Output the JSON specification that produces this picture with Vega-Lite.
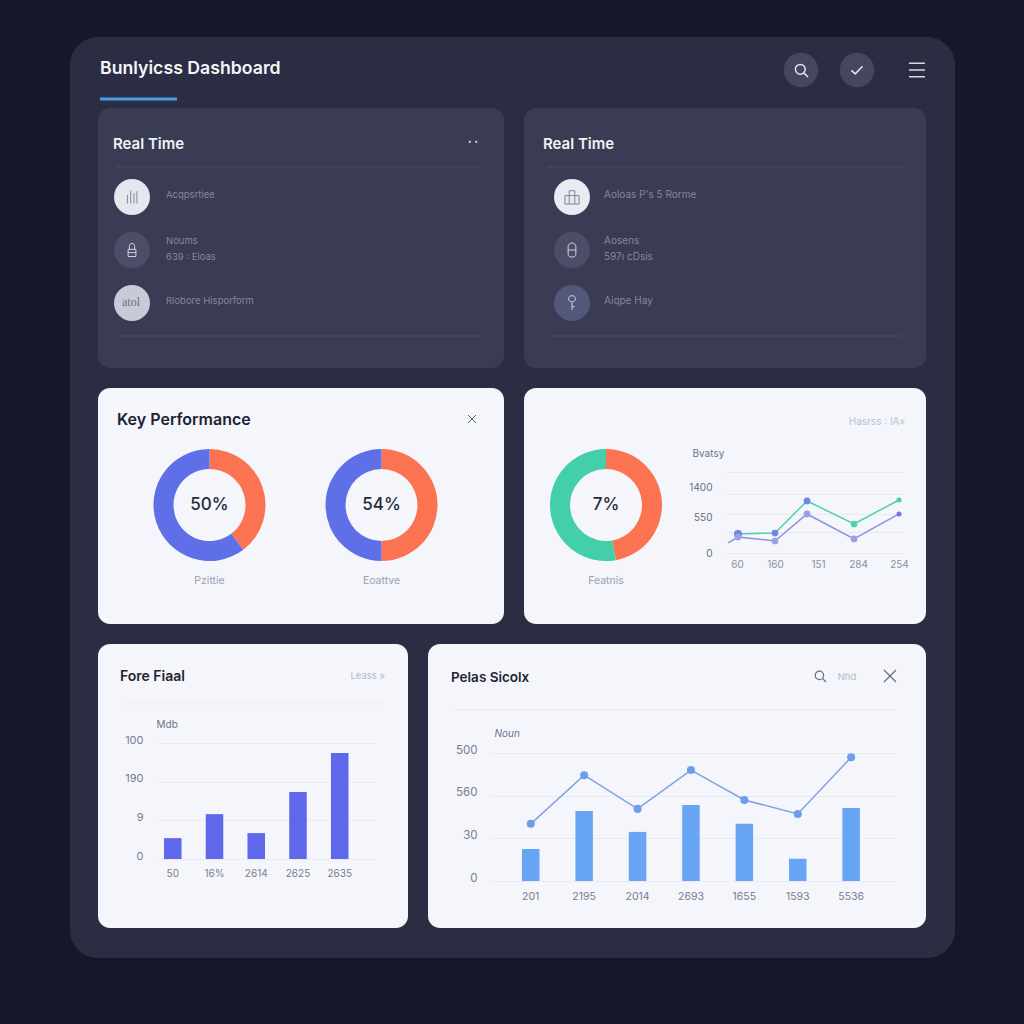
{
"$schema":"https://vega.github.io/schema/vega-lite/v6.json",
"background":"#151829",
"padding":{"left":70,"top":37,"right":69,"bottom":66},
"config":{"view":{"stroke":null},"font":"Inter","axis":{"domain":false,"ticks":false,"tickSize":0,"labelPadding":0,"labelFont":"Inter","labelFontSize":10.5,"labelColor":"#777c90","gridColor":"#e8ebf3","gridWidth":1,"titleFont":"Inter","titleFontSize":10,"titleFontWeight":400,"titleColor":"#6e7386"},"title":{"font":"Inter","anchor":"start","frame":"group","baseline":"middle","fontWeight":600,"offset":0}},
"spacing":0,
"bounds":"flush",
"hconcat":[
{"width":28,"height":921,"view":{"stroke":null},
 "resolve":{"scale":{"x":"independent","y":"independent"}},
 "layer":[
 {"data":{"values":[{"part":"panel"}]},"mark":{"type":"rect","color":"#2b2e43","cornerRadius":28},
  "encoding":{"x":{"datum":"left","type":"nominal","scale":{"type":"point","padding":0,"domain":["left","right"],"range":[0,885]},"axis":null},"x2":{"datum":"right"},"y":{"datum":"top","type":"nominal","scale":{"type":"point","padding":0,"domain":["top","bottom"],"range":[0,921]},"axis":null},"y2":{"datum":"bottom"}}},
 {"data":{"values":[{"part":"accent"}]},"mark":{"type":"rule","color":"#4a9be8","strokeWidth":3},
  "encoding":{"x":{"datum":"start","type":"nominal","scale":{"type":"point","padding":0,"domain":["start","end"],"range":[30,107]},"axis":null},"x2":{"datum":"end"},"y":{"datum":"accent","type":"nominal","scale":{"type":"point","padding":0,"domain":["accent"],"range":[62,62]},"axis":null}}}
 ]},
{"spacing":20,"vconcat":[
 {"width":828,"height":51,"view":{"stroke":null},
  "title":{"text":"Bunlyicss Dashboard","fontSize":17.7,"color":"#f4f5f9","dx":2,"dy":45},
  "resolve":{"scale":{"x":"independent","y":"independent","shape":"independent"}},
  "layer":[
  {"data":{"values":[{"action":"search"},{"action":"check"}]},"mark":{"type":"point","filled":true,"size":1190,"color":"#45475f","opacity":1},
   "encoding":{"x":{"field":"action","type":"nominal","scale":{"type":"point","padding":0,"domain":["search","check"],"range":[703,759]},"axis":null},"y":{"datum":"icons","type":"nominal","scale":{"type":"point","padding":0,"domain":["icons"],"range":[33,33]},"axis":null}}},
  {"data":{"values":[{"action":"search"},{"action":"check"}]},"mark":{"type":"point","filled":false,"size":196,"color":"#e4e6ee","strokeWidth":1.5,"opacity":1},
   "encoding":{"x":{"field":"action","type":"nominal","scale":{"type":"point","padding":0,"domain":["search","check"],"range":[703,759]},"axis":null},"y":{"datum":"icons","type":"nominal","scale":{"type":"point","padding":0,"domain":["icons"],"range":[33,33]},"axis":null},
   "shape":{"field":"action","type":"nominal","legend":null,"scale":{"domain":["search","check"],"range":["M0.45,0.45L1,1M0.6,-0.1A0.7,0.7 0 1 1 -0.8,-0.1A0.7,0.7 0 1 1 0.6,-0.1Z","M-0.8,0.05L-0.25,0.55L0.8,-0.55"]}}}},
  {"data":{"values":[{"action":"menu"}]},"mark":{"type":"point","filled":false,"size":256,"color":"#d7d9e2","strokeWidth":1.6,"opacity":1,"shape":"M-1,-0.85H1M-1,0H1M-1,0.85H1"},
   "encoding":{"x":{"field":"action","type":"nominal","scale":{"type":"point","padding":0,"domain":["menu"],"range":[819,819]},"axis":null},"y":{"datum":"icons","type":"nominal","scale":{"type":"point","padding":0,"domain":["icons"],"range":[33,33]},"axis":null}}}
  ]},
 {"spacing":20,"hconcat":[
  {"width":406,"height":260,"view":{"fill":"#393c52","cornerRadius":12,"stroke":null},
   "title":{"text":"Real Time","fontSize":15,"color":"#f1f2f6","dx":15,"dy":48},
   "resolve":{"scale":{"x":"independent","y":"independent","color":"independent","shape":"independent"}},
   "layer":[
   {"data":{"values":[{"edge":"top"},{"edge":"bottom"}]},"mark":{"type":"rule","color":"#4b4e65","strokeWidth":1},
    "encoding":{"x":{"datum":"left","type":"nominal","scale":{"type":"point","padding":0,"domain":["left","right"],"range":[18,384]},"axis":null},"x2":{"datum":"right"},"y":{"field":"edge","type":"nominal","scale":{"type":"point","padding":0,"domain":["top","bottom"],"range":[59,228]},"axis":null}}},
   {"data":{"values":[{"part":"caret"}]},"mark":{"type":"point","filled":false,"size":64,"color":"#e8e9ef","strokeWidth":1.5,"opacity":1,"shape":"M-1,0.4L-0.6,0M0.6,0L1,0.4"},
    "encoding":{"x":{"field":"part","type":"nominal","scale":{"type":"point","padding":0,"domain":["caret"],"range":[375,375]},"axis":null},"y":{"field":"part","type":"nominal","scale":{"type":"point","padding":0,"domain":["caret"],"range":[33,33]},"axis":null}}},
   {"data":{"values":[{"row":"r1"},{"row":"r2"},{"row":"r3"}]},"mark":{"type":"point","filled":true,"size":1296,"opacity":1},
    "encoding":{"x":{"datum":"icon","type":"nominal","scale":{"type":"point","padding":0,"domain":["icon"],"range":[34,34]},"axis":null},"y":{"field":"row","type":"nominal","scale":{"type":"point","padding":0,"domain":["r1","r2","r3"],"range":[89,195]},"axis":null},"color":{"field":"row","type":"nominal","legend":null,"scale":{"domain":["r1","r2","r3"],"range":["#e6e7ee","#4c4e69","#c9cad8"]}}}},
   {"data":{"values":[{"row":"r1","icon":"bars"},{"row":"r2","icon":"lock"}]},"mark":{"type":"point","filled":false,"size":169,"strokeWidth":1,"opacity":1},
    "encoding":{"x":{"datum":"icon","type":"nominal","scale":{"type":"point","padding":0,"domain":["icon"],"range":[34,34]},"axis":null},"y":{"field":"row","type":"nominal","scale":{"type":"point","padding":0,"domain":["r1","r2"],"range":[89,142]},"axis":null},"color":{"field":"row","type":"nominal","legend":null,"scale":{"domain":["r1","r2"],"range":["#85889c","#d0d2dd"]}},"shape":{"field":"icon","type":"nominal","legend":null,"scale":{"domain":["bars","lock"],"range":["M-0.7,1V-0.3M-0.2,1V-1M0.3,1V-0.6M0.75,1V-0.9","M-0.6,-0.1H0.6V1H-0.6ZM-0.4,-0.1V-0.6A0.4,0.4 0 0 1 0.4,-0.6V-0.1M-0.6,0.4H0.6"]}}}},
   {"data":{"values":[{"row":"r3","label":"atol"}]},"mark":{"type":"text","fontSize":12,"color":"#6a6d82","font":"Liberation Serif"},
    "encoding":{"x":{"datum":"icon","type":"nominal","scale":{"type":"point","padding":0,"domain":["icon"],"range":[33,33]},"axis":null},"y":{"field":"row","type":"nominal","scale":{"type":"point","padding":0,"domain":["r3"],"range":[194,194]},"axis":null},"text":{"field":"label"}}},
   {"data":{"values":[{"row":"r1","label":"Acqpsrtiee"},{"row":"r3","label":"Rlobore Hisporform"}]},"mark":{"type":"text","align":"left","fontSize":9.5,"color":"#85889c"},
    "encoding":{"x":{"datum":"label","type":"nominal","scale":{"type":"point","padding":0,"domain":["label"],"range":[68,68]},"axis":null},"y":{"field":"row","type":"nominal","scale":{"type":"point","padding":0,"domain":["r1","r3"],"range":[87,193]},"axis":null},"text":{"field":"label"}}},
   {"data":{"values":[{"row":"r2","label":"Noums|639 : Eioas"}]},"mark":{"type":"text","align":"left","fontSize":9.5,"color":"#85889c","lineBreak":"|","lineHeight":16},
    "encoding":{"x":{"datum":"label","type":"nominal","scale":{"type":"point","padding":0,"domain":["label"],"range":[68,68]},"axis":null},"y":{"field":"row","type":"nominal","scale":{"type":"point","padding":0,"domain":["r2"],"range":[133,133]},"axis":null},"text":{"field":"label"}}}
   ]},
  {"width":402,"height":260,"view":{"fill":"#393c52","cornerRadius":12,"stroke":null},
   "title":{"text":"Real Time","fontSize":15,"color":"#f1f2f6","dx":19,"dy":48},
   "resolve":{"scale":{"x":"independent","y":"independent","color":"independent","shape":"independent"}},
   "layer":[
   {"data":{"values":[{"edge":"top"},{"edge":"bottom"}]},"mark":{"type":"rule","color":"#4b4e65","strokeWidth":1},
    "encoding":{"x":{"datum":"left","type":"nominal","scale":{"type":"point","padding":0,"domain":["left","right"],"range":[23,378]},"axis":null},"x2":{"datum":"right"},"y":{"field":"edge","type":"nominal","scale":{"type":"point","padding":0,"domain":["top","bottom"],"range":[59,228]},"axis":null}}},
   {"data":{"values":[{"row":"r1"},{"row":"r2"},{"row":"r3"}]},"mark":{"type":"point","filled":true,"size":1296,"opacity":1},
    "encoding":{"x":{"datum":"icon","type":"nominal","scale":{"type":"point","padding":0,"domain":["icon"],"range":[48,48]},"axis":null},"y":{"field":"row","type":"nominal","scale":{"type":"point","padding":0,"domain":["r1","r2","r3"],"range":[89,195]},"axis":null},"color":{"field":"row","type":"nominal","legend":null,"scale":{"domain":["r1","r2","r3"],"range":["#e9eaf2","#4c4e69","#55577a"]}}}},
   {"data":{"values":[{"row":"r1","icon":"gift"},{"row":"r2","icon":"pill"},{"row":"r3","icon":"key"}]},"mark":{"type":"point","filled":false,"size":196,"strokeWidth":1,"opacity":1},
    "encoding":{"x":{"datum":"icon","type":"nominal","scale":{"type":"point","padding":0,"domain":["icon"],"range":[48,48]},"axis":null},"y":{"field":"row","type":"nominal","scale":{"type":"point","padding":0,"domain":["r1","r2","r3"],"range":[89,195]},"axis":null},"color":{"field":"row","type":"nominal","legend":null,"scale":{"domain":["r1","r2","r3"],"range":["#7f8297","#d0d2dd","#d0d2dd"]}},"shape":{"field":"icon","type":"nominal","legend":null,"scale":{"domain":["gift","pill","key"],"range":["M-1,-0.2H1V1H-1ZM-0.4,-0.2V1M0.4,-0.2V1M-0.4,-0.2V-0.9H0.4V-0.2","M-0.55,-0.5A0.55,0.5 0 0 1 0.55,-0.5V0.6A0.4,0.4 0 0 1 0.15,1H-0.15A0.4,0.4 0 0 1 -0.55,0.6ZM-0.55,0H0.55","M-0.5,-0.6A0.5,0.45 0 1 1 0.5,-0.6A0.5,0.45 0 1 1 -0.5,-0.6ZM0,-0.1V1M0,0.5H0.35"]}}}},
   {"data":{"values":[{"row":"r1","label":"Aoloas P's 5 Rorme"},{"row":"r3","label":"Aiqpe Hay"}]},"mark":{"type":"text","align":"left","fontSize":10,"color":"#85889c"},
    "encoding":{"x":{"datum":"label","type":"nominal","scale":{"type":"point","padding":0,"domain":["label"],"range":[80,80]},"axis":null},"y":{"field":"row","type":"nominal","scale":{"type":"point","padding":0,"domain":["r1","r3"],"range":[87,193]},"axis":null},"text":{"field":"label"}}},
   {"data":{"values":[{"row":"r2","label":"Aosens|597ı cDsis"}]},"mark":{"type":"text","align":"left","fontSize":10,"color":"#85889c","lineBreak":"|","lineHeight":16},
    "encoding":{"x":{"datum":"label","type":"nominal","scale":{"type":"point","padding":0,"domain":["label"],"range":[80,80]},"axis":null},"y":{"field":"row","type":"nominal","scale":{"type":"point","padding":0,"domain":["r2"],"range":[133,133]},"axis":null},"text":{"field":"label"}}}
   ]}
 ]},
 {"spacing":20,"hconcat":[
  {"width":406,"height":236,"view":{"fill":"#f4f6fb","cornerRadius":12,"stroke":null},
   "title":{"text":"Key Performance","fontSize":16,"color":"#1c2233","dx":19,"dy":44},
   "resolve":{"scale":{"x":"independent","y":"independent","color":"independent","theta":"independent"}},
   "layer":[
   {"data":{"values":[{"part":"close"}]},"mark":{"type":"point","filled":false,"size":64,"color":"#5d6274","strokeWidth":1,"opacity":1,"shape":"M-1,-1L1,1M1,-1L-1,1"},
    "encoding":{"x":{"field":"part","type":"nominal","scale":{"type":"point","padding":0,"domain":["close"],"range":[374,374]},"axis":null},"y":{"field":"part","type":"nominal","scale":{"type":"point","padding":0,"domain":["close"],"range":[31,31]},"axis":null}}},
   {"data":{"values":[{"donut":"a","segment":"Orange","share":39.7,"rank":1},{"donut":"a","segment":"Blue","share":60.3,"rank":2}]},"mark":{"type":"arc","radius":56,"radius2":36},
    "encoding":{"x":{"field":"donut","type":"nominal","scale":{"type":"point","padding":0,"domain":["a"],"range":[111.5,111.5]},"axis":null},"y":{"datum":"center","type":"nominal","scale":{"type":"point","padding":0,"domain":["center"],"range":[117,117]},"axis":null},"theta":{"field":"share","type":"quantitative","scale":{"domain":[0,100]}},"order":{"field":"rank"},"color":{"field":"segment","type":"nominal","legend":null,"scale":{"domain":["Orange","Blue"],"range":["#fb7350","#5f6fe8"]}}}},
   {"data":{"values":[{"donut":"b","segment":"Orange","share":50,"rank":1},{"donut":"b","segment":"Blue","share":50,"rank":2}]},"mark":{"type":"arc","radius":56,"radius2":36},
    "encoding":{"x":{"field":"donut","type":"nominal","scale":{"type":"point","padding":0,"domain":["b"],"range":[283.5,283.5]},"axis":null},"y":{"datum":"center","type":"nominal","scale":{"type":"point","padding":0,"domain":["center"],"range":[117,117]},"axis":null},"theta":{"field":"share","type":"quantitative","scale":{"domain":[0,100]}},"order":{"field":"rank"},"color":{"field":"segment","type":"nominal","legend":null,"scale":{"domain":["Orange","Blue"],"range":["#fb7350","#5f6fe8"]}}}},
   {"data":{"values":[{"donut":"a","label":"50%"},{"donut":"b","label":"54%"}]},"mark":{"type":"text","fontSize":17,"fontWeight":500,"color":"#262b3c"},
    "encoding":{"x":{"field":"donut","type":"nominal","scale":{"type":"point","padding":0,"domain":["a","b"],"range":[111.5,283.5]},"axis":null},"y":{"datum":"center","type":"nominal","scale":{"type":"point","padding":0,"domain":["center"],"range":[117,117]},"axis":null},"text":{"field":"label"}}},
   {"data":{"values":[{"donut":"a","label":"Pzittie"},{"donut":"b","label":"Eoattve"}]},"mark":{"type":"text","fontSize":10.5,"color":"#9a9fb3"},
    "encoding":{"x":{"field":"donut","type":"nominal","scale":{"type":"point","padding":0,"domain":["a","b"],"range":[111.5,283.5]},"axis":null},"y":{"datum":"caption","type":"nominal","scale":{"type":"point","padding":0,"domain":["caption"],"range":[193,193]},"axis":null},"text":{"field":"label"}}}
   ]},
  {"width":402,"height":236,"view":{"fill":"#f4f6fb","cornerRadius":12,"stroke":null},
   "resolve":{"scale":{"x":"independent","y":"independent","color":"independent","theta":"independent"}},
   "layer":[
   {"data":{"values":[{"part":"legend","label":"Hasrss : IA»"}]},"mark":{"type":"text","align":"right","fontSize":10,"color":"#b9c0d0"},
    "encoding":{"x":{"field":"part","type":"nominal","scale":{"type":"point","padding":0,"domain":["legend"],"range":[381,381]},"axis":null},"y":{"field":"part","type":"nominal","scale":{"type":"point","padding":0,"domain":["legend"],"range":[34,34]},"axis":null},"text":{"field":"label"}}},
   {"data":{"values":[{"donut":"c","segment":"Orange","share":47.2,"rank":1},{"donut":"c","segment":"Green","share":52.8,"rank":2}]},"mark":{"type":"arc","radius":56,"radius2":36},
    "encoding":{"x":{"field":"donut","type":"nominal","scale":{"type":"point","padding":0,"domain":["c"],"range":[82,82]},"axis":null},"y":{"datum":"center","type":"nominal","scale":{"type":"point","padding":0,"domain":["center"],"range":[117,117]},"axis":null},"theta":{"field":"share","type":"quantitative","scale":{"domain":[0,100]}},"order":{"field":"rank"},"color":{"field":"segment","type":"nominal","legend":null,"scale":{"domain":["Orange","Green"],"range":["#fb7350","#43cfa9"]}}}},
   {"data":{"values":[{"donut":"c","label":"7%"}]},"mark":{"type":"text","fontSize":17,"fontWeight":500,"color":"#262b3c"},
    "encoding":{"x":{"field":"donut","type":"nominal","scale":{"type":"point","padding":0,"domain":["c"],"range":[82,82]},"axis":null},"y":{"datum":"center","type":"nominal","scale":{"type":"point","padding":0,"domain":["center"],"range":[117,117]},"axis":null},"text":{"field":"label"}}},
   {"data":{"values":[{"donut":"c","label":"Featnis"}]},"mark":{"type":"text","fontSize":10.5,"color":"#9a9fb3"},
    "encoding":{"x":{"field":"donut","type":"nominal","scale":{"type":"point","padding":0,"domain":["c"],"range":[82,82]},"axis":null},"y":{"datum":"caption","type":"nominal","scale":{"type":"point","padding":0,"domain":["caption"],"range":[193,193]},"axis":null},"text":{"field":"label"}}},
   {"data":{"values":[{"t":13,"teal":375},{"t":50,"teal":395},{"t":82,"teal":1028},{"t":129,"teal":573},{"t":174,"teal":1047}]},"mark":{"type":"line","color":"#4fd0ac","strokeWidth":1.5},
    "encoding":{"x":{"field":"t","type":"quantitative","scale":{"domain":[0,178],"range":[201,379]},"axis":{"values":[12,50,93,133,174],"orient":"bottom","offset":-71,"labelPadding":6,"grid":false,"title":null,"labelFontSize":10,"labelColor":"#8a8fa2","labelExpr":"datum.value==12?'60':datum.value==50?'160':datum.value==93?'151':datum.value==133?'284':'254'"}},"y":{"field":"teal","type":"quantitative","scale":{"domain":[0,1600],"range":[165,84]},"axis":{"values":[0,415,770,1165,1600],"labels":false,"grid":true,"title":null}}}},
   {"data":{"values":[{"t":3,"violet":198},{"t":13,"violet":316},{"t":50,"violet":237},{"t":82,"violet":771},{"t":129,"violet":277},{"t":174,"violet":771}]},"mark":{"type":"line","color":"#8f8fdc","strokeWidth":1.5},
    "encoding":{"x":{"field":"t","type":"quantitative","scale":{"domain":[0,178],"range":[201,379]},"axis":null},"y":{"field":"violet","type":"quantitative","scale":{"domain":[0,1600],"range":[165,84]},"axis":{"orient":"left","values":[0,700,1300],"grid":false,"offset":-188,"labelFontSize":10,"labelColor":"#666b7e","labelExpr":"datum.value==0?'0':datum.value==700?'550':'1400'","title":"Bvatsy","titleAngle":0,"titleAlign":"left","titleBaseline":"middle","titleX":-20,"titleY":65}}}},
   {"data":{"values":[{"t":13,"level":375,"tone":"Blue","weight":"large"},{"t":50,"level":395,"tone":"Blue","weight":"mid"},{"t":82,"level":1028,"tone":"Blue","weight":"mid"},{"t":129,"level":573,"tone":"Green","weight":"mid"},{"t":174,"level":1047,"tone":"Green","weight":"small"},{"t":13,"level":316,"tone":"Violet","weight":"mid"},{"t":50,"level":237,"tone":"Violet","weight":"mid"},{"t":82,"level":771,"tone":"Violet","weight":"mid"},{"t":129,"level":277,"tone":"Violet","weight":"mid"},{"t":174,"level":771,"tone":"Indigo","weight":"small"}]},"mark":{"type":"point","filled":true,"opacity":1},
    "encoding":{"x":{"field":"t","type":"quantitative","scale":{"domain":[0,178],"range":[201,379]},"axis":null},"y":{"field":"level","type":"quantitative","scale":{"domain":[0,1600],"range":[165,84]},"axis":null},"color":{"field":"tone","type":"nominal","legend":null,"scale":{"domain":["Blue","Green","Violet","Indigo"],"range":["#6f86e8","#4fd0ac","#9a9fe8","#6f78d8"]}},"size":{"field":"weight","type":"ordinal","legend":null,"scale":{"domain":["small","mid","large"],"range":[25,65,130]}}}}
   ]}
 ]},
 {"spacing":20,"hconcat":[
  {"width":310,"height":284,"view":{"fill":"#f4f6fb","cornerRadius":12,"stroke":null},
   "title":{"text":"Fore Fiaal","fontSize":14,"color":"#1f2435","dx":22,"dy":44},
   "resolve":{"scale":{"x":"independent","y":"independent"}},
   "layer":[
   {"data":{"values":[{"part":"legend","label":"Leass »"}]},"mark":{"type":"text","align":"right","fontSize":9.5,"color":"#b5bacb"},
    "encoding":{"x":{"field":"part","type":"nominal","scale":{"type":"point","padding":0,"domain":["legend"],"range":[287,287]},"axis":null},"y":{"field":"part","type":"nominal","scale":{"type":"point","padding":0,"domain":["legend"],"range":[32,32]},"axis":null},"text":{"field":"label"}}},
   {"data":{"values":[{"edge":"sep"}]},"mark":{"type":"rule","color":"#e8ebf3","strokeWidth":1},
    "encoding":{"x":{"datum":"left","type":"nominal","scale":{"type":"point","padding":0,"domain":["left","right"],"range":[24,285]},"axis":null},"x2":{"datum":"right"},"y":{"field":"edge","type":"nominal","scale":{"type":"point","padding":0,"domain":["sep"],"range":[60,60]},"axis":null}}},
   {"data":{"values":[{"period":"50","amount":54},{"period":"16%","amount":116},{"period":"2614","amount":67},{"period":"2625","amount":173},{"period":"2635","amount":274}]},"mark":{"type":"bar","color":"#5f68ea"},
    "encoding":{"x":{"field":"period","type":"nominal","sort":null,"scale":{"type":"band","range":[58,278],"paddingInner":0.58,"paddingOuter":0.425,"align":0.225},"axis":{"orient":"bottom","offset":-69,"labelPadding":9,"labelAngle":0,"labelFontSize":10,"title":null}},"y":{"field":"amount","type":"quantitative","scale":{"domain":[0,300],"range":[215,99]},"axis":{"values":[0,100,200,300],"grid":true,"offset":-45,"labelOffset":-3,"labelFontSize":11,"labelExpr":"datum.value==0?'0':datum.value==100?'9':datum.value==200?'190':'100'","title":"Mdb","titleAngle":0,"titleAlign":"left","titleBaseline":"middle","titleX":13,"titleY":80}}}}
   ]},
  {"width":498,"height":284,"view":{"fill":"#f4f6fb","cornerRadius":12,"stroke":null},
   "title":{"text":"Pelas Sicolx","fontSize":13.5,"color":"#1f2435","dx":23,"dy":44},
   "resolve":{"scale":{"x":"independent","y":"independent"}},
   "layer":[
   {"data":{"values":[{"action":"search"},{"action":"close"}]},"mark":{"type":"point","filled":false,"size":144,"color":"#666b7e","strokeWidth":1.2,"opacity":1},
    "encoding":{"x":{"field":"action","type":"nominal","scale":{"type":"point","padding":0,"domain":["search","close"],"range":[392,462]},"axis":null},"y":{"datum":"icons","type":"nominal","scale":{"type":"point","padding":0,"domain":["icons"],"range":[32,32]},"axis":null},"shape":{"field":"action","type":"nominal","legend":null,"scale":{"domain":["search","close"],"range":["M0.45,0.45L1,1M0.6,-0.1A0.7,0.7 0 1 1 -0.8,-0.1A0.7,0.7 0 1 1 0.6,-0.1Z","M-1,-1L1,1M1,-1L-1,1"]}}}},
   {"data":{"values":[{"part":"legend","label":"Nhd"}]},"mark":{"type":"text","fontSize":9.5,"color":"#b5bacb"},
    "encoding":{"x":{"field":"part","type":"nominal","scale":{"type":"point","padding":0,"domain":["legend"],"range":[419,419]},"axis":null},"y":{"field":"part","type":"nominal","scale":{"type":"point","padding":0,"domain":["legend"],"range":[33,33]},"axis":null},"text":{"field":"label"}}},
   {"data":{"values":[{"edge":"sep"}]},"mark":{"type":"rule","color":"#e8ebf3","strokeWidth":1},
    "encoding":{"x":{"datum":"left","type":"nominal","scale":{"type":"point","padding":0,"domain":["left","right"],"range":[24,468]},"axis":null},"x2":{"datum":"right"},"y":{"field":"edge","type":"nominal","scale":{"type":"point","padding":0,"domain":["sep"],"range":[66,66]},"axis":null}}},
   {"data":{"values":[{"period":"201","bars":75},{"period":"2195","bars":164},{"period":"2014","bars":115},{"period":"2693","bars":178},{"period":"1655","bars":134},{"period":"1593","bars":52},{"period":"5536","bars":171}]},"mark":{"type":"bar","color":"#69a5f5"},
    "encoding":{"x":{"field":"period","type":"nominal","sort":null,"scale":{"type":"band","range":[62,467],"paddingInner":0.672,"paddingOuter":0.628,"align":0.477},"axis":{"orient":"bottom","offset":-47,"labelPadding":10,"labelAngle":0,"labelFontSize":10.5,"title":null}},"y":{"field":"bars","type":"quantitative","scale":{"domain":[0,300],"range":[237,109]},"axis":{"values":[0,100,200,300],"grid":true,"offset":-49,"labelOffset":-3,"labelFontSize":11.5,"labelExpr":"datum.value==0?'0':datum.value==100?'30':datum.value==200?'560':'500'","title":"Noun","titleAngle":0,"titleAlign":"left","titleBaseline":"middle","titleFontStyle":"italic","titleX":17,"titleY":89}}}},
   {"data":{"values":[{"period":"201","trend":134},{"period":"2195","trend":248},{"period":"2014","trend":169},{"period":"2693","trend":260},{"period":"1655","trend":190},{"period":"1593","trend":157},{"period":"5536","trend":290}]},"mark":{"type":"line","color":"#7fa3de","strokeWidth":1.5,"point":{"filled":true,"color":"#6d9eec","size":65,"opacity":1}},
    "encoding":{"x":{"field":"period","type":"nominal","sort":null,"scale":{"type":"band","range":[62,467],"paddingInner":0.672,"paddingOuter":0.628,"align":0.477},"axis":null},"y":{"field":"trend","type":"quantitative","scale":{"domain":[0,300],"range":[237,109]},"axis":null}}}
   ]}
 ]}
]}
]}
